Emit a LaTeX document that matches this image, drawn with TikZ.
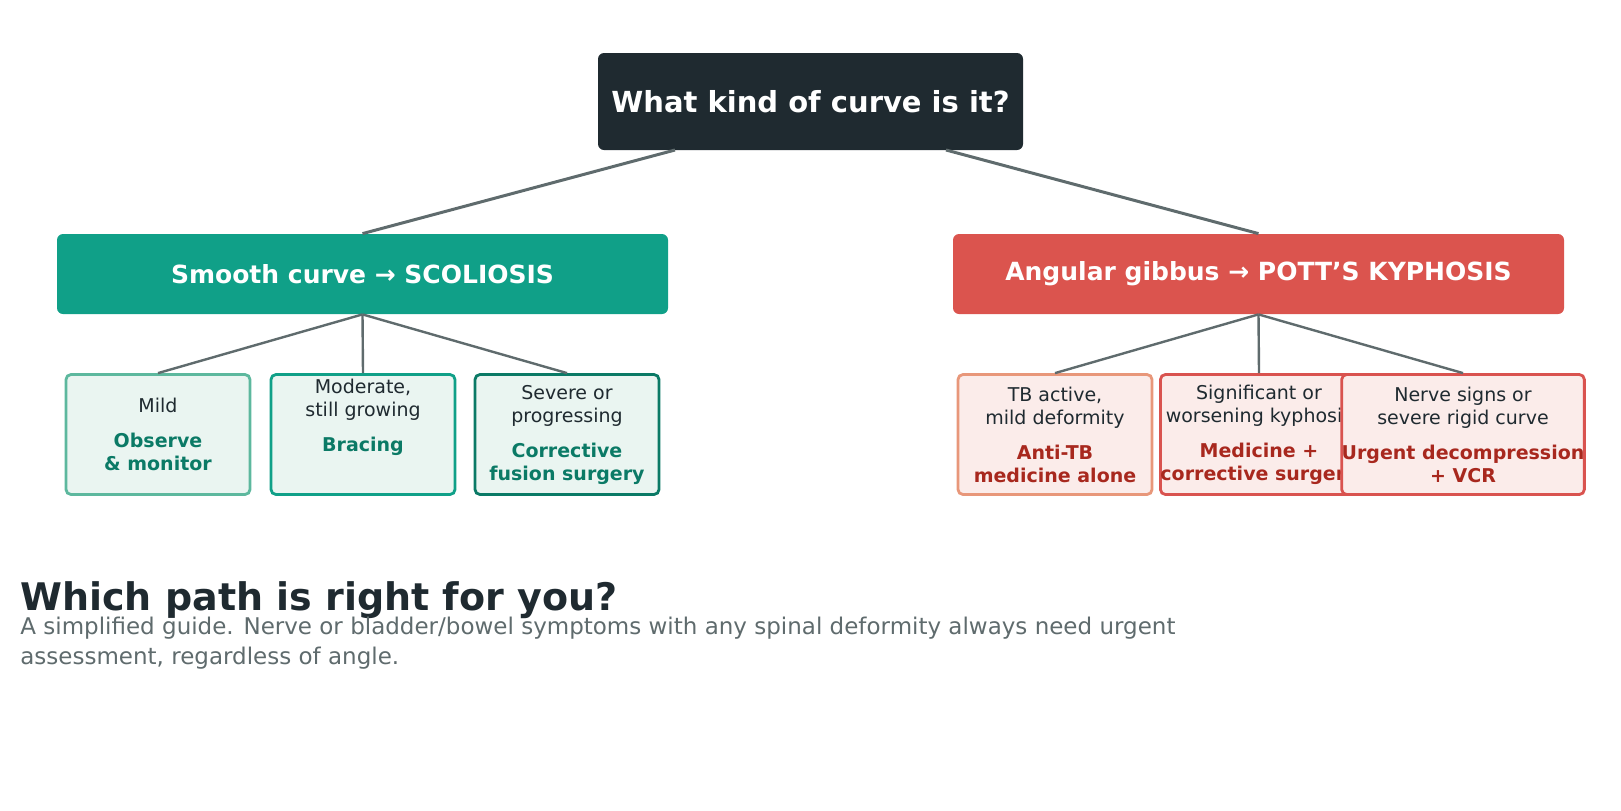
\documentclass[tikz,border=0pt]{standalone}
\usepackage{fontspec}
\setmainfont{DejaVu Sans}
\definecolor{dark}{HTML}{1F2A30}
\definecolor{teal}{HTML}{10A088}
\definecolor{coral}{HTML}{DB544E}
\definecolor{gry}{HTML}{5F6B6D}
\definecolor{gl}{HTML}{EAF5F1}
\definecolor{rl}{HTML}{FBECEA}
\definecolor{g1}{HTML}{5DB89E}
\definecolor{g3}{HTML}{0B7A66}
\definecolor{r1}{HTML}{E8977A}
\definecolor{r2}{HTML}{D9534F}
\definecolor{rt}{HTML}{A8281E}
\begin{document}
\begin{tikzpicture}[x=0.5pt,y=-0.5pt,
 big/.style={rounded corners=3pt,text=white,font=\bfseries\fontsize{12.5}{15}\selectfont,inner sep=0},
 leaf/.style={rounded corners=2.5pt,line width=1.4pt,minimum width=92pt,minimum height=60pt,align=center,font=\fontsize{9.5}{11.5}\selectfont,text=dark,inner sep=0},
 ln/.style={gry,line width=1.5pt},
 lf/.style={gry,line width=1.2pt}]
\useasboundingbox (0,0) rectangle (1621,810);
\node[big,fill=dark,minimum width=212.5pt,minimum height=48.5pt,font=\bfseries\fontsize{14.5}{17}\selectfont] (root) at (810.5,101.5) {What kind of curve is it?};
\node[big,fill=teal,minimum width=305.5pt,minimum height=40pt] (sc) at (362.5,274) {Smooth curve → SCOLIOSIS};
\node[big,fill=coral,minimum width=305.5pt,minimum height=40pt] (ky) at (1258.5,274) {Angular gibbus → POTT’S KYPHOSIS};
\coordinate (rl) at (675,150); \coordinate (rr) at (946,150);
\draw[ln] (rl) -- (sc.north); \draw[ln] (rr) -- (ky.north);
\def\g#1{\textcolor{g3}{\bfseries #1}}
\def\r#1{\textcolor{rt}{\bfseries #1}}
\node[leaf,draw=g1,fill=gl] (a) at (158,434.5) {Mild\\[6pt]\g{Observe}\\\g{\& monitor}};
\node[leaf,draw=teal,fill=gl] (b) at (363,434.5) {Moderate,\\still growing\\[6pt]\g{Bracing}\\[8pt]};
\node[leaf,draw=g3,fill=gl] (c) at (567,434.5) {Severe or\\progressing\\[6pt]\g{Corrective}\\\g{fusion surgery}};
\node[leaf,draw=r1,fill=rl,minimum width=97pt] (d) at (1055,434.5) {TB active,\\mild deformity\\[6pt]\r{Anti-TB}\\\r{medicine alone}};
\node[leaf,draw=r2,fill=rl,minimum width=97pt] (e) at (1259,434.5) {Significant or\\worsening kyphosis\\[6pt]\r{Medicine +}\\\r{corrective surgery}};
\node[leaf,draw=r2,fill=rl,minimum width=97pt] (f) at (1463,434.5) {Nerve signs or\\severe rigid curve\\[6pt]\r{Urgent decompression}\\\r{+ VCR}};
\foreach \t in {a,b,c} \draw[lf] (sc.south) -- (\t.north);
\foreach \t in {d,e,f} \draw[lf] (ky.south) -- (\t.north);
\node[anchor=base west,inner sep=0,text=dark,font=\bfseries\fontsize{19}{23}\selectfont] (t) at (20,610) {Which path is right for you?};
\node[anchor=north west,inner sep=0,text=gry,align=left,font=\fontsize{11.5}{15}\selectfont] (s) at (20,617) {A simplified guide. Nerve or bladder/bowel symptoms with any spinal deformity always need urgent\\assessment, regardless of angle.};
\end{tikzpicture}
\end{document}
